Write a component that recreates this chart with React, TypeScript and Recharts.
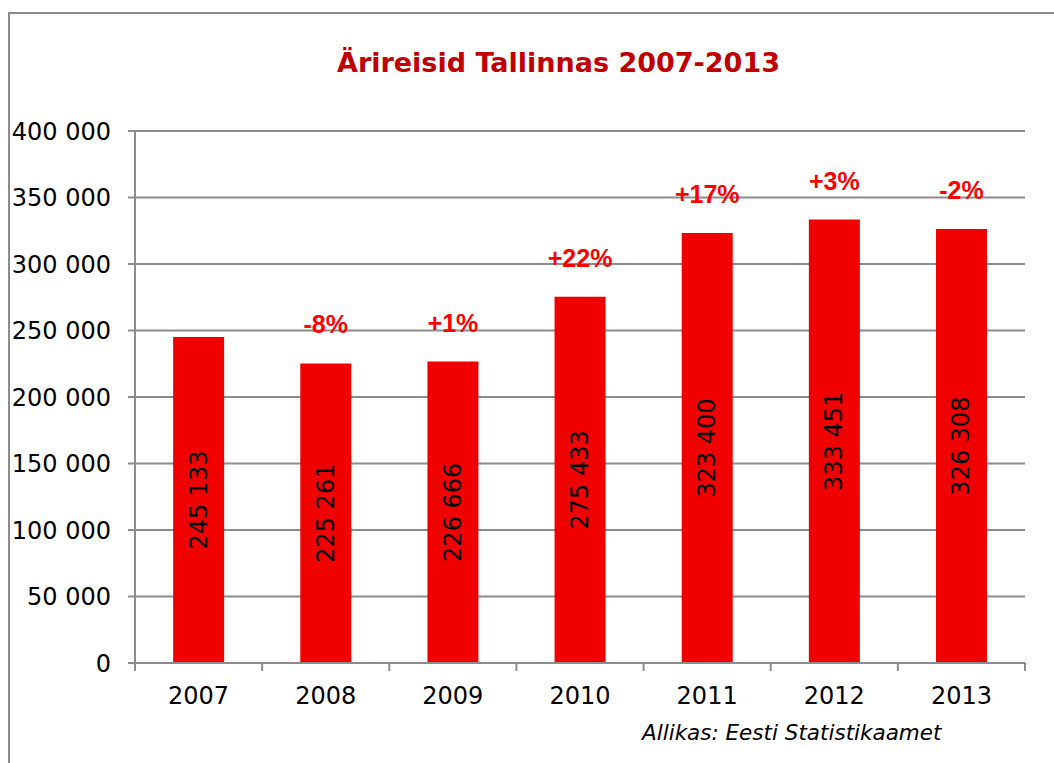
import { BarChart, Bar, XAxis, YAxis, CartesianGrid, LabelList } from "recharts";

const years = ["2007", "2008", "2009", "2010", "2011", "2012", "2013"];
const trips = [245133, 225261, 226666, 275433, 323400, 333451, 326308];
const changes = ["", "-8%", "+1%", "+22%", "+17%", "+3%", "-2%"];
const yTicks = [0, 50000, 100000, 150000, 200000, 250000, 300000, 350000, 400000];

const data = years.map((year, i) => ({
  year,
  trips: trips[i],
  change: changes[i],
}));

const fmt = (v: number) => String(v).replace(/\B(?=(\d{3})+(?!\d))/g, " ");

const FONT = "'DejaVu Sans', Verdana, sans-serif";
const GRID = "#8c8c8c";
const X_TICK_SIZE = 8;
const X_TICK_MARGIN = 16;

// year label plus the small marks on the category boundaries
const YearTick = (props: any) => {
  const { x, y, payload, index, visibleTicksCount } = props;
  const half = payload.offset || 0;
  const axisY = y - X_TICK_SIZE - X_TICK_MARGIN;
  const edges = [x - half];
  if (index === visibleTicksCount - 1) edges.push(x + half);
  return (
    <g>
      {edges.map((ex, i) => (
        <line
          key={i}
          x1={ex}
          x2={ex}
          y1={axisY}
          y2={axisY + X_TICK_SIZE}
          stroke={GRID}
          strokeWidth={2}
        />
      ))}
      <text
        x={x}
        y={y}
        dy="0.71em"
        textAnchor="middle"
        fontFamily={FONT}
        fontSize={24}
        fill="#000"
      >
        {payload.value}
      </text>
    </g>
  );
};

const ValueLabel = (props: any) => {
  const { x, y, width, height, value } = props;
  const cx = x + width / 2;
  const cy = y + height / 2;
  return (
    <text
      x={cx}
      y={cy}
      transform={`rotate(-90 ${cx} ${cy})`}
      textAnchor="middle"
      dominantBaseline="central"
      fontFamily={FONT}
      fontSize={24}
      fill="#000"
    >
      {fmt(value)}
    </text>
  );
};

const ChangeLabel = (props: any) => {
  const { x, y, width, value } = props;
  if (!value) return null;
  return (
    <text
      x={x + width / 2}
      y={y - 39}
      textAnchor="middle"
      dominantBaseline="central"
      fontFamily="'Liberation Sans', Arial, sans-serif"
      fontWeight="bold"
      fontSize={25}
      fill="#ff0000"
    >
      {value}
    </text>
  );
};

export default function App() {
  return (
    <div
      style={{
        position: "absolute",
        left: 0,
        top: 0,
        width: 1054,
        height: 763,
        overflow: "hidden",
        background: "#fff",
      }}
    >
      <div
        style={{
          position: "absolute",
          left: 8,
          top: 12,
          width: 1200,
          height: 900,
          border: "2px solid #8c8c8c",
        }}
      />
      <div
        style={{
          position: "absolute",
          left: 0,
          width: 1117,
          top: 47,
          textAlign: "center",
          fontFamily: FONT,
          fontWeight: "bold",
          fontSize: 27,
          color: "#c00000",
        }}
      >
        Ärireisid Tallinnas 2007-2013
      </div>
      <div style={{ position: "absolute", left: 0, top: 0 }}>
        <BarChart
          width={1054}
          height={763}
          data={data}
          margin={{ top: 131, right: 29, left: 0, bottom: 60 }}
          barCategoryGap="30%"
        >
          <CartesianGrid vertical={false} stroke={GRID} strokeWidth={2} />
          <XAxis
            dataKey="year"
            height={40}
            axisLine={{ stroke: GRID, strokeWidth: 2 }}
            tickLine={false}
            tickSize={X_TICK_SIZE}
            tickMargin={X_TICK_MARGIN}
            interval={0}
            tick={YearTick}
          />
          <YAxis
            width={135}
            domain={[0, 400000]}
            ticks={yTicks}
            tickFormatter={fmt}
            axisLine={{ stroke: GRID, strokeWidth: 2 }}
            tickLine={{ stroke: GRID, strokeWidth: 2 }}
            tickSize={7}
            tickMargin={17}
            tick={{ fill: "#000", fontSize: 24, fontFamily: FONT }}
          />
          <Bar dataKey="trips" fill="#f00000" isAnimationActive={false}>
            <LabelList dataKey="trips" content={ValueLabel} />
            <LabelList dataKey="change" content={ChangeLabel} />
          </Bar>
        </BarChart>
      </div>
      <div
        style={{
          position: "absolute",
          left: 642,
          top: 720,
          fontFamily: FONT,
          fontStyle: "italic",
          fontSize: 21.5,
          color: "#000",
          whiteSpace: "nowrap",
        }}
      >
        Allikas: Eesti Statistikaamet
      </div>
    </div>
  );
}
